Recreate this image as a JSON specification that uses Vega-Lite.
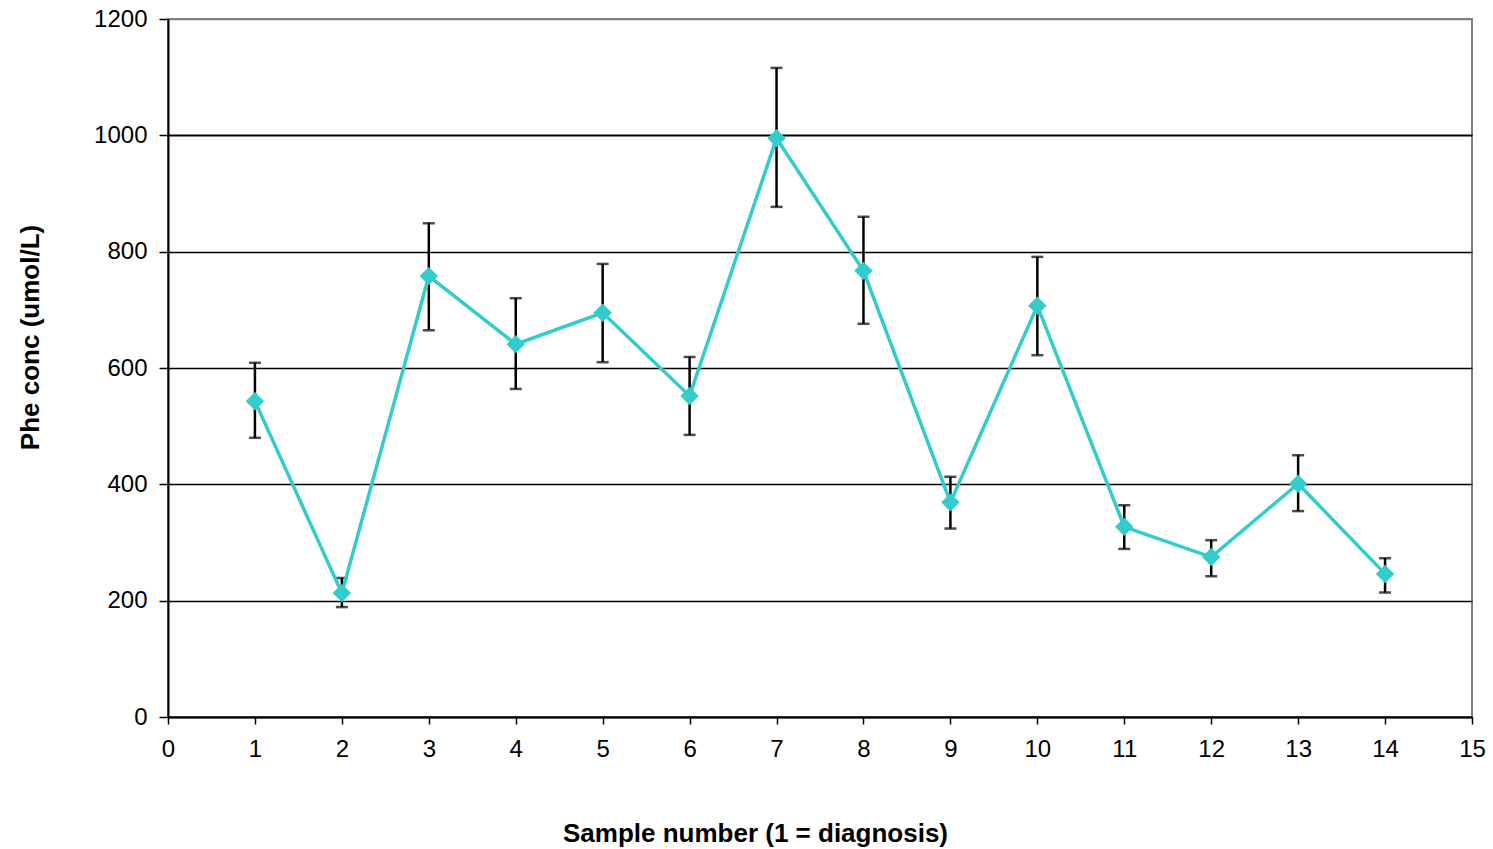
{
  "$schema": "https://vega.github.io/schema/vega-lite/v6.json",
  "autosize": "none",
  "width": 1304,
  "height": 698,
  "padding": {"left": 168, "top": 19, "right": 21, "bottom": 132},
  "background": "white",
  "config": {
    "view": {"stroke": "#808080", "strokeWidth": 2},
    "font": "Liberation Sans",
    "axis": {
      "labelFont": "Liberation Sans",
      "titleFont": "Liberation Sans",
      "labelColor": "black",
      "titleColor": "black",
      "domainColor": "black",
      "tickColor": "black",
      "labelFontSize": 24,
      "titleFontSize": 26,
      "titleFontWeight": "bold"
    }
  },
  "data": {
    "values": [
      {"sample": 1, "phe": 543, "lo": 480, "hi": 609},
      {"sample": 2, "phe": 213, "lo": 189, "hi": 239},
      {"sample": 3, "phe": 758, "lo": 665, "hi": 849},
      {"sample": 4, "phe": 641, "lo": 564, "hi": 720},
      {"sample": 5, "phe": 695, "lo": 610, "hi": 779},
      {"sample": 6, "phe": 552, "lo": 485, "hi": 619},
      {"sample": 7, "phe": 995, "lo": 877, "hi": 1116},
      {"sample": 8, "phe": 767, "lo": 676, "hi": 860},
      {"sample": 9, "phe": 369, "lo": 324, "hi": 413},
      {"sample": 10, "phe": 707, "lo": 622, "hi": 791},
      {"sample": 11, "phe": 327, "lo": 289, "hi": 364},
      {"sample": 12, "phe": 275, "lo": 242, "hi": 304},
      {"sample": 13, "phe": 401, "lo": 354, "hi": 450},
      {"sample": 14, "phe": 246, "lo": 214, "hi": 273}
    ]
  },
  "encoding": {
    "x": {
      "field": "sample",
      "type": "quantitative",
      "scale": {"domain": [0, 15], "nice": false, "zero": false},
      "axis": {
        "title": "Sample number (1 = diagnosis)",
        "values": [0, 1, 2, 3, 4, 5, 6, 7, 8, 9, 10, 11, 12, 13, 14, 15],
        "format": "d",
        "grid": false,
        "domainWidth": 2,
        "tickSize": 7,
        "tickWidth": 1.5,
        "labelPadding": 13,
        "labelFlush": false,
        "titleX": 587,
        "titleY": 116,
        "titleAnchor": null,
        "titleAlign": "center",
        "titleBaseline": "middle"
      }
    }
  },
  "layer": [
    {
      "mark": {"type": "rule", "color": "black", "strokeWidth": 2.5},
      "encoding": {
        "y": {
          "field": "lo",
          "type": "quantitative",
          "scale": {"domain": [0, 1200], "nice": false},
          "axis": {
            "title": "Phe conc (umol/L)",
            "values": [0, 200, 400, 600, 800, 1000, 1200],
            "format": "d",
            "grid": true,
            "gridColor": {"condition": {"test": "datum.value == 1200", "value": "#808080"}, "value": "black"},
            "gridWidth": {"condition": {"test": "datum.value == 1000", "value": 2}, "value": 1.3},
            "gridOpacity": 1,
            "domainWidth": 2,
            "tickSize": 9,
            "tickWidth": 1.5,
            "labelPadding": 12,
            "titleX": -138,
            "titleY": 318,
            "titleAnchor": null,
            "titleAngle": -90,
            "titleAlign": "center",
            "titleBaseline": "middle"
          }
        },
        "y2": {"field": "hi"}
      }
    },
    {
      "mark": {"type": "tick", "color": "black", "thickness": 2.5, "size": 12, "orient": "horizontal"},
      "encoding": {"y": {"field": "lo", "type": "quantitative"}}
    },
    {
      "mark": {"type": "tick", "color": "black", "thickness": 2.5, "size": 12, "orient": "horizontal"},
      "encoding": {"y": {"field": "hi", "type": "quantitative"}}
    },
    {
      "mark": {"type": "line", "color": "#33CCCC", "strokeWidth": 3.5},
      "encoding": {"y": {"field": "phe", "type": "quantitative"}}
    },
    {
      "mark": {"type": "point", "shape": "diamond", "filled": true, "color": "#33CCCC", "opacity": 1, "size": 340},
      "encoding": {"y": {"field": "phe", "type": "quantitative"}}
    }
  ]
}
